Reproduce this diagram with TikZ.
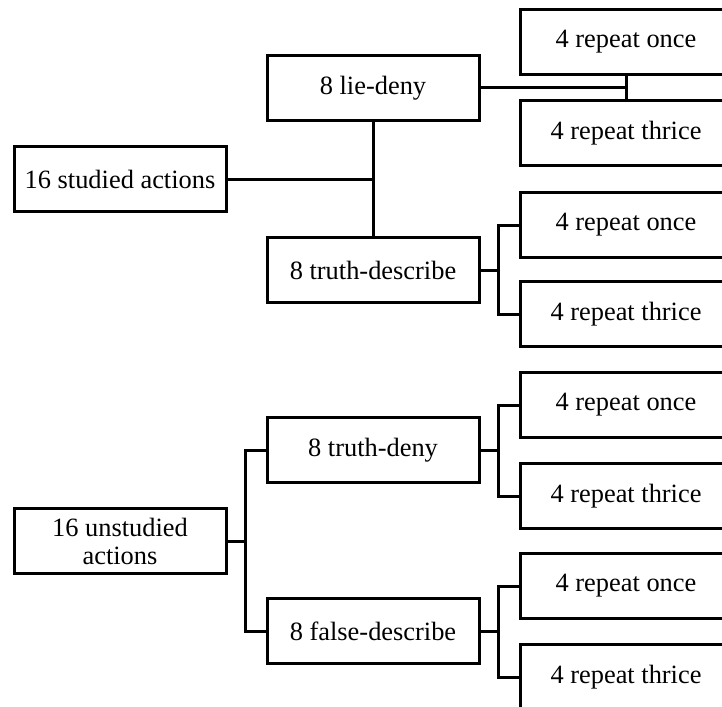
\documentclass[tikz,border=0pt]{standalone}
\usepackage{fontspec}
\setmainfont{Liberation Serif}
\begin{document}
\begin{tikzpicture}[x=0.5pt, y=-0.5pt, line width=1.5pt,
  box/.style={draw, minimum width=106pt, minimum height=32.5pt, inner sep=0pt,
    align=center, font=\fontsize{13.2}{14}\selectfont}]
\useasboundingbox (0,0) rectangle (722,706);
\clip (0,0) rectangle (722,706);

\node[box] (studied) at (120,179) {16 studied actions};
\node[box] (unstudied) at (120,541) {16 unstudied\\actions};

\node[box] (liedeny) at (373,88) {8 lie-deny};
\node[box] (truthdesc) at (373,270) {8 truth-describe};
\node[box] (truthdeny) at (373,450) {8 truth-deny};
\node[box] (falsedesc) at (373,631) {8 false-describe};

\foreach \i/\y in {1/42, 2/225, 3/405, 4/586}
  \node[box] (once\i) at (626,\y) {4 repeat once};
\foreach \i/\y in {1/133, 2/314, 3/496, 4/677}
  \node[box] (thrice\i) at (626,\y) {4 repeat thrice};

\draw (studied.east) -- (studied -| liedeny);
\draw (liedeny.south) -- (truthdesc.north);
\draw (liedeny.east) -- (liedeny -| once1);
\draw (once1.south) -- (thrice1.north);

\foreach \p/\a/\b in {unstudied/truthdeny/falsedesc, truthdesc/once2/thrice2,
    truthdeny/once3/thrice3, falsedesc/once4/thrice4} {
  \draw (\a.west) -| ([xshift=-10pt]\a.west) |- (\b.west);
  \draw (\p.east) -- ([xshift=-10pt]\a.west |- \p.east);
}
\end{tikzpicture}
\end{document}
